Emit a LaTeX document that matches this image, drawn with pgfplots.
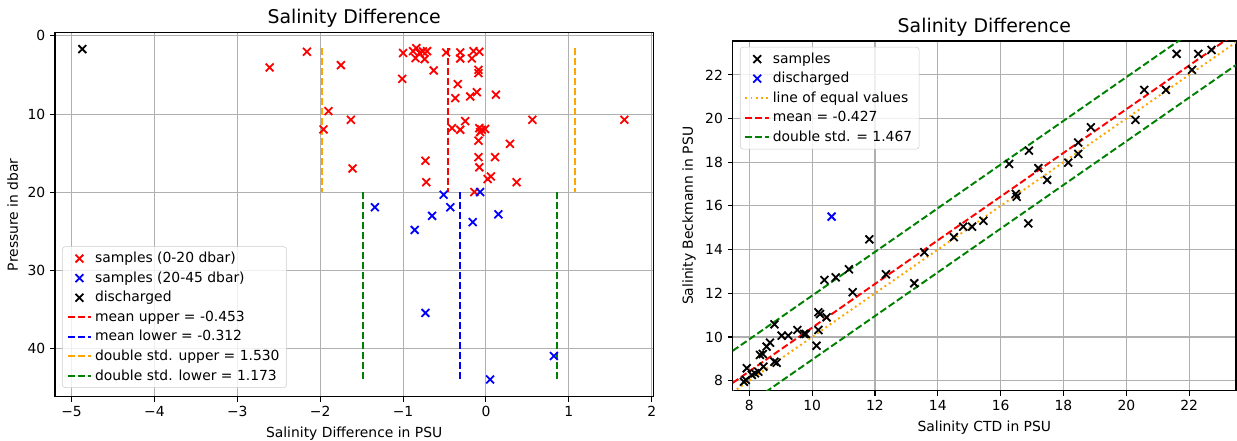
\documentclass[border=0pt]{standalone}
\usepackage{fontspec}
\setmainfont{DejaVu Sans}
\usepackage{pgfplots}
\pgfplotsset{compat=1.18}

\definecolor{mplorange}{HTML}{FFA500}
\definecolor{mplgreen}{HTML}{008000}
\definecolor{gridgray}{HTML}{B0B0B0}

\pgfplotsset{
  every axis title shift=0pt,
  sal/.style={
    scale only axis,
    axis line style={line width=0.8pt},
    tick align=outside, major tick length=3.5pt,
    tick style={black, line width=0.8pt},
    xtick pos=left, ytick pos=left,
    grid=major, grid style={gridgray, line width=0.8pt},
    ticklabel style={font=\fontsize{10}{12}\selectfont},
    label style={font=\fontsize{10}{12}\selectfont},
    title style={font=\fontsize{13.6}{16}\selectfont},
    /pgf/number format/assume math mode=true,
    legend cell align=left,
    legend style={draw=black!20, rounded corners=2pt, fill=white, fill opacity=0.8,
      text opacity=1, font=\fontsize{10}{12}\selectfont, row sep=1pt},
  },
  dsh/.style={line width=1.4pt, dash pattern=on 5pt off 2.2pt},
  dot/.style={line width=1.4pt, dash pattern=on 1.4pt off 2.3pt},
  xm/.style={only marks, mark=x, mark size=4pt, mark options={line width=1.3pt}},
}

\begin{document}
\begin{tikzpicture}[x=1pt,y=1pt]
\useasboundingbox (0,0) rectangle (890.64,317.52);

% left: difference vs pressure
\begin{axis}[sal, at={(39.6pt,31.9pt)}, anchor=south west,
  width=430.8pt, height=262.1pt,
  xmin=-5.2, xmax=2.02, ymin=-0.4, ymax=46.1, y dir=reverse,
  xtick={-5,-4,-3,-2,-1,0,1,2},
  xticklabels={−5,−4,−3,−2,−1,0,1,2},
  ytick={0,10,20,30,40},
  title={Salinity Difference},
  xlabel={Salinity Difference in PSU},
  ylabel={Pressure in dbar},
  legend style={at={(0.012,0.024)}, anchor=south west}]

\addplot[xm, red] coordinates {
(-2.61,4.05) (-2.16,2.04) (-1.75,3.75) (-1.90,9.62) (-1.63,10.73) (-1.96,11.96)
(-1.61,16.95) (-1.00,2.2) (-1.01,5.5) (-0.88,1.96) (-0.84,1.58) (-0.85,2.85)
(-0.80,2.2) (-0.76,2.0) (-0.74,2.98) (-0.71,1.96) (-0.63,4.43) (-0.48,2.13)
(-0.31,2.13) (-0.31,2.9) (-0.15,1.96) (-0.17,2.9) (-0.08,2.04) (-0.09,4.35)
(-0.09,4.77) (-0.34,6.17) (-0.37,7.96) (-0.19,7.75) (-0.11,7.2) (0.12,7.53)
(0.56,10.73) (1.67,10.73) (-0.25,10.9) (-0.41,11.8) (-0.31,12.0) (-0.08,11.8)
(-0.05,12.0) (-0.01,11.9) (-0.07,12.3) (-0.09,13.4) (0.29,13.8) (-0.73,15.96)
(-0.09,15.5) (0.11,15.5) (-0.08,16.8) (-0.72,18.7) (0.02,18.3) (0.06,17.97)
(0.37,18.7) (-0.14,19.96)};
\addlegendentry{samples (0-20 dbar)}

\addplot[xm, blue] coordinates {
(-0.07,19.96) (-0.51,20.3) (-1.34,21.9) (-0.43,21.9) (-0.65,23.0) (-0.86,24.8)
(-0.16,23.8) (0.15,22.8) (-0.73,35.4) (0.82,40.9) (0.05,43.9)};
\addlegendentry{samples (20-45 dbar)}

\addplot[xm, black] coordinates {(-4.87,1.70)};
\addlegendentry{discharged}

\addplot[dsh, red] coordinates {(-0.453,1.6) (-0.453,20)};
\addlegendentry{mean upper = -0.453}
\addplot[dsh, blue] coordinates {(-0.312,20) (-0.312,43.9)};
\addlegendentry{mean lower = -0.312}
\addplot[dsh, mplorange] coordinates {(-1.983,1.6) (-1.983,20)};
\addlegendentry{double std. upper = 1.530}
\addplot[dsh, mplorange, forget plot] coordinates {(1.077,1.6) (1.077,20)};
\addplot[dsh, mplgreen] coordinates {(-1.485,20) (-1.485,43.9)};
\addlegendentry{double std. lower = 1.173}
\addplot[dsh, mplgreen, forget plot] coordinates {(0.861,20) (0.861,43.9)};
\end{axis}

% right: CTD vs Beckmann
\begin{axis}[sal, at={(527.5pt,36.2pt)}, anchor=south west,
  width=362.4pt, height=251.8pt,
  xmin=7.47, xmax=23.49, ymin=7.54, ymax=23.55,
  xtick={8,10,...,22}, ytick={8,10,...,22},
  title={Salinity Difference},
  xlabel={Salinity CTD in PSU},
  ylabel={Salinity Beckmann in PSU},
  legend style={at={(0.0145,0.983)}, anchor=north west}]

\addplot[xm, black] coordinates {
(7.83,7.95) (7.89,8.03) (7.92,8.57) (8.08,8.26) (8.18,8.34) (8.29,8.41)
(8.45,8.64) (8.34,9.18) (8.43,9.22) (8.55,9.56) (8.66,9.74) (8.80,8.87)
(8.87,8.82) (8.80,10.58) (9.03,10.06) (9.24,10.06) (9.53,10.32) (9.74,10.14)
(9.80,10.14) (10.14,9.6) (10.2,10.32) (10.46,10.9) (10.2,11.13) (10.25,11.05)
(10.39,12.61) (10.75,12.73) (11.17,13.1) (11.29,12.05) (11.82,14.47) (12.35,12.87)
(13.25,12.46) (13.57,13.88) (14.51,14.57) (14.81,15.05) (15.09,15.05) (15.45,15.32)
(16.48,16.55) (16.51,16.42) (16.88,15.2) (16.27,17.92) (16.90,18.53) (17.20,17.73)
(17.48,17.19) (18.15,17.98) (18.47,18.38) (18.47,18.9) (18.87,19.6) (20.29,19.94)
(20.57,21.31) (21.26,21.31) (22.09,22.23) (21.6,22.96) (22.29,22.96) (22.71,23.14)};
\addlegendentry{samples}

\addplot[xm, blue] coordinates {(10.62,15.51)};
\addlegendentry{discharged}

\addplot[dot, mplorange] coordinates {(7.47,7.47) (23.49,23.49)};
\addlegendentry{line of equal values}
\addplot[dsh, red] coordinates {(7.47,7.897) (23.49,23.917)};
\addlegendentry{mean = -0.427}
\addplot[dsh, mplgreen] coordinates {(7.47,9.364) (23.49,25.384)};
\addlegendentry{double std. = 1.467}
\addplot[dsh, mplgreen, forget plot] coordinates {(7.47,6.43) (23.49,22.45)};
\end{axis}
\end{tikzpicture}
\end{document}
